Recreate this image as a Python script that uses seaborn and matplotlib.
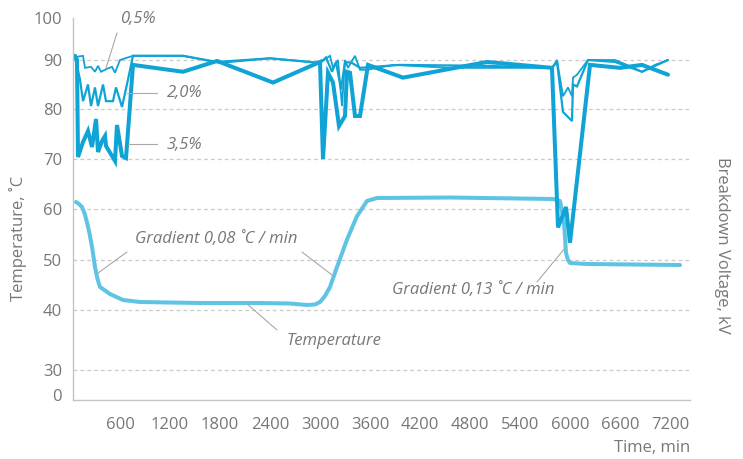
import numpy as np
import pandas as pd
import matplotlib
matplotlib.use("Agg")
import matplotlib.pyplot as plt
import seaborn as sns

# ---- data -------------------------------------------------------------
# breakdown voltage, kV, for three additive concentrations
t_05 = [36, 96, 156, 180, 252, 300, 336, 372, 444, 504, 540, 600, 756, 1356,
        1800, 2400, 2760, 3000, 3120, 3156, 3216, 3264, 3300, 3336, 3420, 3480,
        3564, 3876, 4560, 5784, 5844, 5916, 5976, 6024, 6036, 6084, 6216, 6540,
        6684, 6864, 7020, 7176]
v_05 = [90.0, 90.8, 91.0, 88.4, 88.6, 87.6, 88.8, 87.6, 88.2, 88.6, 87.4, 90.0,
        91.0, 91.0, 89.4, 90.4, 89.8, 89.4, 91.0, 88.4, 90.0, 80.6, 90.0, 88.4,
        91.0, 88.0, 88.0, 89.0, 88.4, 88.4, 90.0, 82.6, 84.4, 82.6, 86.4, 87.0,
        90.0, 90.0, 89.0, 87.6, 89.0, 90.0]

t_20 = [60, 120, 156, 216, 252, 300, 336, 396, 432, 516, 552, 624, 696, 756,
        1356, 1764, 2400, 3000, 3072, 3144, 3192, 3252, 3300, 3384, 3480, 3960,
        5004, 5784, 5844, 5916, 6024, 6036, 6084, 6216, 6540, 6864, 7176]
v_20 = [90.6, 86.0, 81.6, 85.0, 80.6, 84.4, 80.6, 85.0, 81.6, 81.6, 84.4, 80.4,
        86.0, 91.0, 91.0, 89.6, 90.4, 89.4, 90.6, 87.6, 89.6, 84.0, 89.6, 89.4,
        88.4, 89.0, 88.8, 88.4, 89.6, 79.4, 77.6, 85.0, 84.6, 90.0, 89.6, 87.6,
        90.0]

t_35 = [60, 84, 96, 156, 216, 264, 312, 336, 384, 420, 432, 540, 564, 624, 672,
        756, 1356, 1764, 2436, 3000, 3036, 3096, 3156, 3228, 3300, 3324, 3360,
        3420, 3480, 3576, 3996, 5004, 5784, 5856, 5952, 6000, 6240, 6600, 6864,
        7176]
v_35 = [91.0, 90.0, 70.4, 73.4, 75.6, 72.4, 78.0, 71.4, 73.6, 74.6, 72.6, 69.6,
        76.8, 70.6, 70.2, 89.0, 87.6, 89.8, 85.4, 89.6, 70.0, 87.4, 85.4, 76.6,
        78.6, 87.6, 87.4, 78.6, 78.6, 89.0, 86.4, 89.6, 88.4, 56.4, 60.4, 53.4,
        89.0, 88.4, 89.0, 87.0]

# oil temperature, deg C
t_temp = [72, 108, 144, 174, 204, 234, 264, 300, 330, 360, 420, 480, 636, 840,
          1560, 2280, 2640, 2844, 2940, 3000, 3060, 3120, 3204, 3324, 3444,
          3564, 3684, 4560, 5796, 5880, 5928, 5952, 5976, 6000, 6204, 7320]
v_temp = [61.4, 61.0, 60.4, 59.2, 57.4, 55.2, 52.6, 48.6, 46.2, 44.6, 43.9, 43.2,
          42.0, 41.6, 41.4, 41.4, 41.3, 41.0, 41.1, 41.6, 42.8, 44.6, 48.6, 54.0,
          58.6, 61.6, 62.2, 62.3, 62.0, 61.6, 57.4, 51.4, 50.0, 49.4, 49.2, 49.0]

x_ticks = [600, 1200, 1800, 2400, 3000, 3600, 4200, 4800, 5400, 6000, 6600, 7200]
y_ticks = [0, 30, 40, 50, 60, 70, 80, 90, 100]
grid_levels = [30, 40, 50, 60, 70, 80, 90]

# ---- style ------------------------------------------------------------
sns.set_theme(style="white")
plt.rcParams["font.family"] = ["Open Sans", "DejaVu Sans"]

C_BV = "#0fa3d6"
C_T = "#5fc4e4"
C_TXT = "#777777"
C_LEAD = "#a8a8a8"
C_AX = "#c4c4c4"
FS = 12

# the value axis is compressed below 40 and above 90
Y_NODES = [0, 30, 40, 50, 60, 70, 80, 90, 100]
Y_POS = [0, 25, 85, 135, 186, 236, 286, 335, 377]


def _pw(x, xp, fp):
    x = np.asarray(x, dtype=float)
    y = np.interp(x, xp, fp)
    s0 = (fp[1] - fp[0]) / (xp[1] - xp[0])
    s1 = (fp[-1] - fp[-2]) / (xp[-1] - xp[-2])
    y = np.where(x < xp[0], fp[0] + (x - xp[0]) * s0, y)
    y = np.where(x > xp[-1], fp[-1] + (x - xp[-1]) * s1, y)
    return y


def fwd(v):
    return _pw(v, Y_NODES, Y_POS)


def inv(p):
    return _pw(p, Y_POS, Y_NODES)


W, H = 743, 459
fig = plt.figure(figsize=(W / 100, H / 100), dpi=100)
ax = fig.add_axes([73 / W, 1 - 400 / H, (690 - 73) / W, (400 - 18) / H])
ax.set_yscale("function", functions=(fwd, inv))

for lv in grid_levels:
    ax.axhline(lv, color="#c9c9c9", lw=0.9, ls=(0, (3, 2.5)), zorder=0)

df_t = pd.DataFrame({"t": t_temp, "v": v_temp})
sns.lineplot(data=df_t, x="t", y="v", ax=ax, color=C_T, lw=2.9, sort=False,
             estimator=None, solid_capstyle="round", solid_joinstyle="round")

for tt, vv, lw in [(t_05, v_05, 1.3), (t_20, v_20, 1.6), (t_35, v_35, 2.9)]:
    d = pd.DataFrame({"t": tt, "v": vv})
    sns.lineplot(data=d, x="t", y="v", ax=ax, color=C_BV, lw=lw, sort=False,
                 estimator=None, solid_joinstyle="miter")

ax.set_xlim(36, 7440)
ax.set_ylim(-6, 100)
ax.set_xticks(x_ticks)
ax.set_xticklabels([str(x) for x in x_ticks])
ax.set_yticks(y_ticks)
ax.set_yticklabels([str(y) for y in y_ticks])
ax.minorticks_off()
ax.tick_params(axis="both", length=0, labelsize=FS, labelcolor=C_TXT)
ax.tick_params(axis="x", pad=12)
ax.tick_params(axis="y", pad=8)
ax.set_xlabel("")
ax.set_ylabel("")
for s in ("top", "right"):
    ax.spines[s].set_visible(False)
for s in ("left", "bottom"):
    ax.spines[s].set_color(C_AX)
    ax.spines[s].set_linewidth(1.0)


def fx(px):
    return px / W


def fy(py):
    return 1 - py / H


fig.text(fx(18), fy(238), "Temperature, ˚C", rotation=90, ha="center",
         va="center", color=C_TXT, fontsize=FS)
fig.text(fx(722), fy(245), "Breakdown Voltage, kV", rotation=270, ha="center",
         va="center", color=C_TXT, fontsize=FS)
fig.text(fx(690), fy(448), "Time, min", ha="right", va="center",
         color=C_TXT, fontsize=FS)

# callout labels with leader lines
labels = [
    ("0,5%", 120, 19, (117, 33), (106, 68)),
    ("2,0%", 167, 93, (127, 93), (157, 93)),
    ("3,5%", 167, 145, (128, 144), (157, 144)),
    ("Gradient 0,08 ˚C / min", 135, 239, (127, 252), (98, 273)),
    ("Temperature", 286, 341, (246, 303), (277, 330)),
    ("Gradient 0,13 ˚C / min", 392, 290, (537, 282), (565, 248)),
]
for txt, lx, ly, p0, p1 in labels:
    fig.text(fx(lx), fy(ly), txt, ha="left", va="center", color=C_TXT,
             fontsize=FS, style="italic")
    fig.add_artist(plt.Line2D([fx(p0[0]), fx(p1[0])], [fy(p0[1]), fy(p1[1])],
                              color=C_LEAD, lw=0.8, transform=fig.transFigure))
fig.add_artist(plt.Line2D([fx(302), fx(332)], [fy(252), fy(275)],
                          color=C_LEAD, lw=0.8, transform=fig.transFigure))

fig.savefig("out.png", dpi=100)
